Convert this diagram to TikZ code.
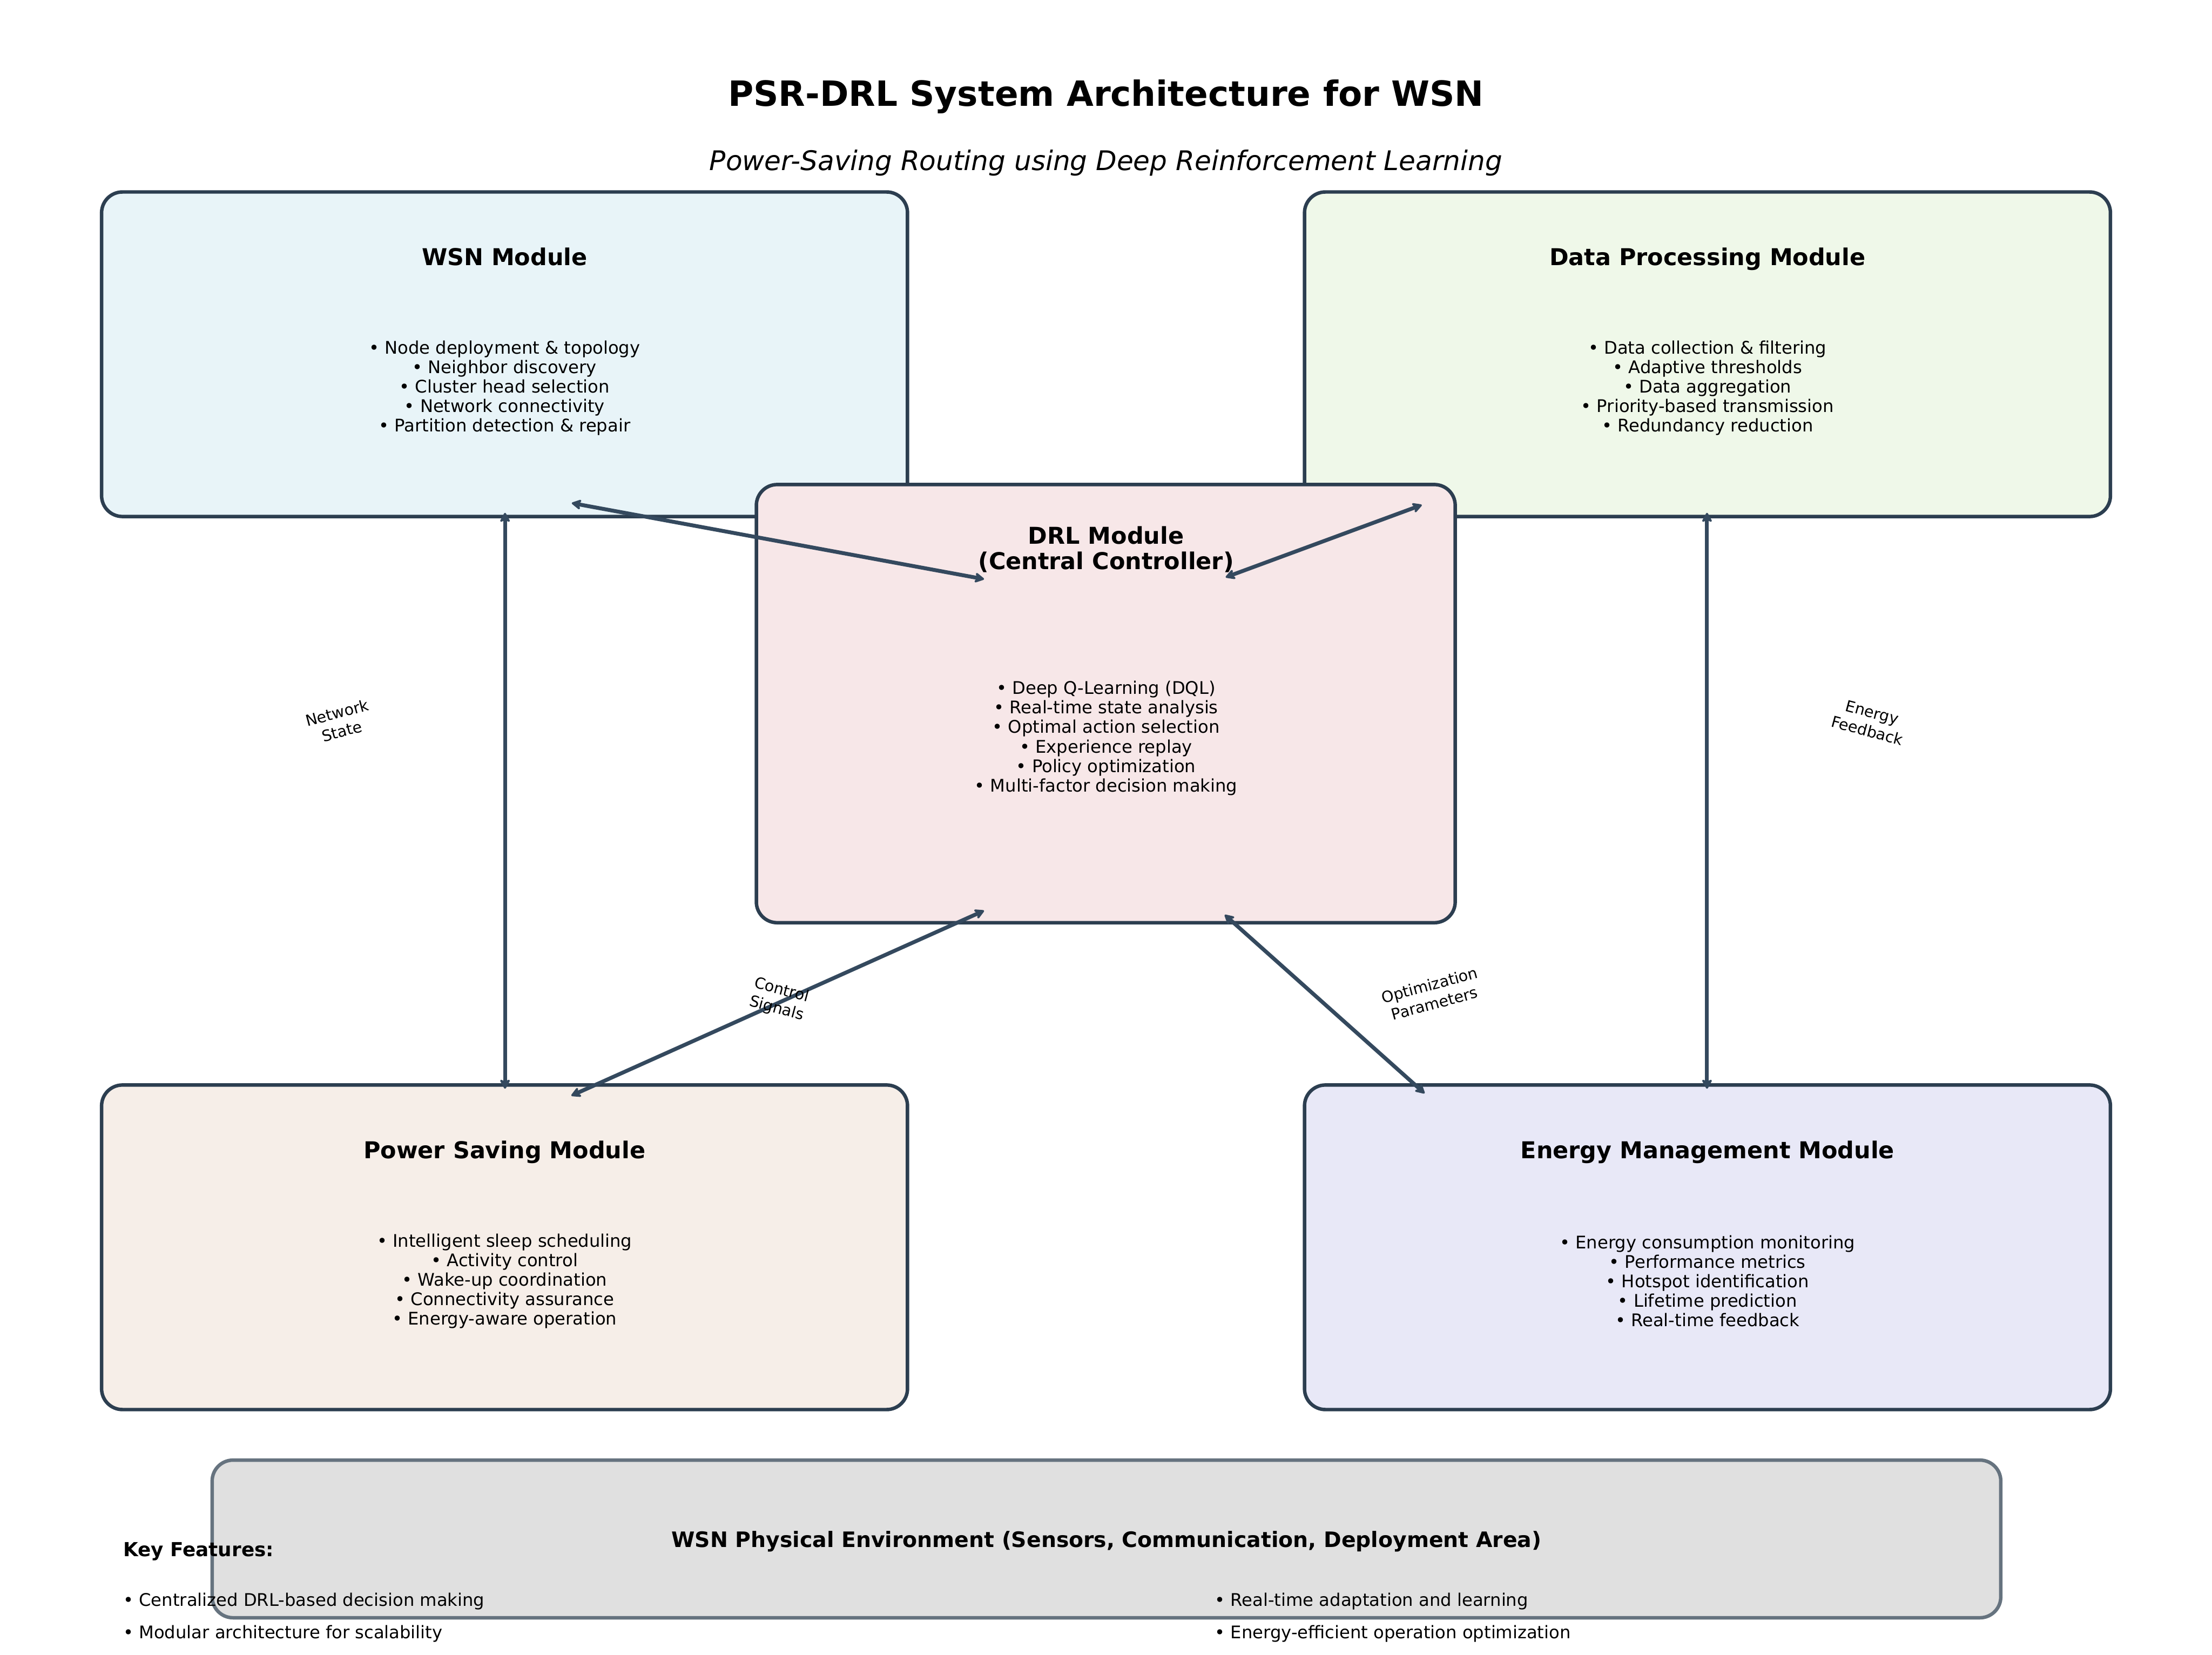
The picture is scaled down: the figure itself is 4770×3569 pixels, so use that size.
\documentclass[tikz,border=0pt]{standalone}
\usepackage{fontspec}
\setmainfont{DejaVu Sans}
\usetikzlibrary{arrows.meta}
\definecolor{edgec}{HTML}{2C3E50}
\definecolor{arrc}{HTML}{34495E}
\definecolor{cwsn}{HTML}{E8F4F8}
\definecolor{cdata}{HTML}{EFF8E9}
\definecolor{cdrl}{HTML}{F7E7E8}
\definecolor{cpow}{HTML}{F6EEE8}
\definecolor{cene}{HTML}{E8E8F7}
\definecolor{cenv}{HTML}{E0E0E0}
\definecolor{cenvedge}{HTML}{66737F}
\begin{document}
\begin{tikzpicture}[x=0.24pt,y=-0.24pt,
  module/.style={draw=edgec, line width=1.8pt, rounded corners=10.8pt,
    minimum width=417.1pt, minimum height=168pt, inner sep=0pt},
  mtitle/.style={font=\fontsize{12pt}{13pt}\selectfont\bfseries, align=center, inner sep=0pt},
  mbody/.style={font=\fontsize{9pt}{10.1pt}\selectfont, align=center, inner sep=0pt},
  lbl/.style={font=\fontsize{8pt}{9.8pt}\selectfont, align=center, inner sep=0pt},
  kf/.style={font=\fontsize{9pt}{10.8pt}\selectfont, anchor=west, inner sep=0pt},
  link/.style={draw=arrc, line width=2pt, <->,
    >={Stealth[length=6pt,width=6.5pt,inset=1.8pt,round]}},
]
\useasboundingbox (0,0) rectangle (4770,3569);
\fill[white] (0,0) rectangle (4770,3569);

% titles
\node[anchor=base, inner sep=0pt, font=\fontsize{18pt}{21.6pt}\selectfont\bfseries] (title) at (2385,229) {PSR-DRL System Architecture for WSN};
\node[anchor=base, inner sep=0pt, font=\fontsize{14pt}{16.8pt}\selectfont\itshape] (subtitle) at (2385,367) {Power-Saving Routing using Deep Reinforcement Learning};

% outer modules
\node[module, fill=cwsn] (wsn) at (1088,764) {};
\node[mtitle, anchor=base] (wsnT) at (1088,572) {WSN Module};
\node[mbody] (wsnB) at (1088,837) {• Node deployment \& topology\\• Neighbor discovery\\• Cluster head selection\\• Network connectivity\\• Partition detection \& repair};

\node[module, fill=cdata] (data) at (3682,764) {};
\node[mtitle, anchor=base] (dataT) at (3682,572) {Data Processing Module};
\node[mbody] (dataB) at (3682,837) {• Data collection \& filtering\\• Adaptive thresholds\\• Data aggregation\\• Priority-based transmission\\• Redundancy reduction};

\node[module, fill=cpow] (pow) at (1088,2690) {};
\node[mtitle, anchor=base] (powT) at (1088,2498) {Power Saving Module};
\node[mbody] (powB) at (1088,2763) {• Intelligent sleep scheduling\\• Activity control\\• Wake-up coordination\\• Connectivity assurance\\• Energy-aware operation};

\node[module, fill=cene] (ene) at (3682,2690) {};
\node[mtitle, anchor=base] (eneT) at (3682,2498) {Energy Management Module};
\node[mbody] (eneB) at (3682,2763) {• Energy consumption monitoring\\• Performance metrics\\• Hotspot identification\\• Lifetime prediction\\• Real-time feedback};

% central module
\node[module, fill=cdrl, minimum width=361.7pt, minimum height=226.8pt] (drl) at (2384.5,1517.5) {};
\node[mtitle] (drlT) at (2385,1185) {DRL Module\\(Central Controller)};
\node[mbody] (drlB) at (2385,1592) {• Deep Q-Learning (DQL)\\• Real-time state analysis\\• Optimal action selection\\• Experience replay\\• Policy optimization\\• Multi-factor decision making};

% physical environment
\node[draw=cenvedge, fill=cenv, line width=1.8pt, rounded corners=10.8pt,
  minimum width=925.7pt, minimum height=81.6pt, inner sep=0pt] (env) at (2386,3319) {};
\node[inner sep=0pt, font=\fontsize{11pt}{13.2pt}\selectfont\bfseries] (envT) at (2386,3324) {WSN Physical Environment (Sensors, Communication, Deployment Area)};

% key features
\node[kf, font=\fontsize{10pt}{12pt}\selectfont\bfseries] (kfT) at (265,3346) {Key Features:};
\node[kf] (kf1) at (265,3453) {• Centralized DRL-based decision making};
\node[kf] (kf2) at (265,3523) {• Modular architecture for scalability};
\node[kf] (kf3) at (2619,3453) {• Real-time adaptation and learning};
\node[kf] (kf4) at (2619,3523) {• Energy-efficient operation optimization};

% connector end points
\coordinate (wsnR) at (1233,1085);
\coordinate (drlTL) at (2122,1249);
\coordinate (drlTR) at (2643,1245);
\coordinate (dataL) at (3066,1089);
\coordinate (wsnDn) at (1089,1106);
\coordinate (powUp) at (1089,2348);
\coordinate (dataDn) at (3681,1106);
\coordinate (eneUp) at (3681,2348);
\coordinate (drlBL) at (2122,1964);
\coordinate (powR) at (1232,2363);
\coordinate (drlBR) at (2641,1973);
\coordinate (eneL) at (3072,2358);

% connectors
\draw[link] (wsnR) -- (drlTL);
\draw[link] (drlTR) -- (dataL);
\draw[link] (wsnDn) -- (powUp);
\draw[link] (dataDn) -- (eneUp);
\draw[link] (drlBL) -- (powR);
\draw[link] (drlBR) -- (eneL);

% connector labels
\node[lbl, rotate=15] (lNS) at (732,1557) {Network\\State};
\node[lbl, rotate=-15] (lEF) at (4032,1556) {Energy\\Feedback};
\node[lbl, rotate=-15] (lCS) at (1680,2156) {Control\\Signals};
\node[lbl, rotate=15] (lOP) at (3088,2144) {Optimization\\Parameters};
\end{tikzpicture}
\end{document}
